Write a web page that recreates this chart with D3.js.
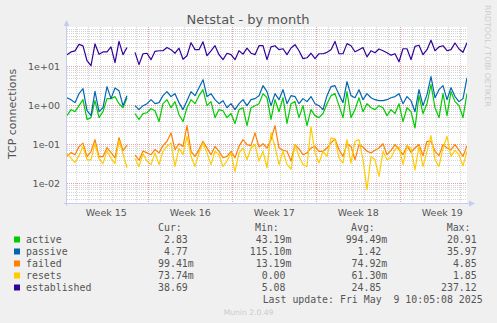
<!DOCTYPE html>
<html><head><meta charset="utf-8">
<script src="https://cdn.jsdelivr.net/npm/d3@7/dist/d3.min.js"></script>
<style>
html,body{margin:0;padding:0;background:#F0F0F0;}
svg{display:block;}
text{font-family:"DejaVu Sans",sans-serif;}
.mono{font-family:"DejaVu Sans Mono",monospace;}
</style></head><body>
<svg id="chart" width="497" height="323"></svg>
<script>
// ---------- data ----------
const seriesNames  = ["active","passive","failed","resets","established"];
const seriesColors = ["#00CC00","#0066B3","#FF8000","#FFCC00","#330099"];

// samples every 8 hours starting 2025-04-07 05:24 UTC (null = no data)
const active = [0.54,0.77,0.68,0.97,1.38,0.43,0.48,1.30,0.48,0.68,1.47,1.47,1.65,1.09,0.86,1.55,null,0.61,0.43,0.61,
  0.64,0.81,0.72,0.38,1.09,1.38,0.86,1.23,0.57,0.38,0.86,1.38,1.09,1.75,2.49,0.97,1.23,0.48,0.77,0.72,
  0.48,0.61,0.34,0.77,0.86,0.30,0.86,0.97,1.09,1.97,1.55,0.43,1.38,0.68,1.55,0.34,1.09,1.23,0.48,0.97,
  0.30,0.77,0.54,0.48,0.61,1.09,1.75,1.97,0.97,0.48,2.21,0.48,0.77,1.55,0.68,1.09,0.86,0.77,0.97,0.86,
  0.54,0.77,0.61,1.09,0.38,0.86,0.68,0.26,1.75,0.61,1.09,3.35,0.86,0.48,1.97,0.54,2.21,1.23,0.97,0.48,2.0];
const passive = [1.55,1.38,1.16,1.97,2.64,0.72,0.54,2.25,0.68,0.86,2.97,1.47,2.75,2.35,0.97,1.75,null,0.97,0.77,0.97,
  1.09,1.38,1.09,1.16,1.75,2.21,1.66,1.97,1.16,0.77,1.30,2.21,1.75,2.80,4.49,1.66,1.97,1.38,1.09,1.30,
  0.86,1.09,0.77,1.09,1.38,0.97,1.38,1.47,1.75,3.15,2.21,0.97,1.97,1.38,2.49,1.09,1.75,1.66,1.09,1.47,
  1.23,1.66,1.09,0.97,0.77,1.75,2.97,3.15,1.86,1.16,3.99,1.75,1.55,2.49,1.38,1.97,1.55,1.38,1.30,1.30,
  1.38,1.55,1.66,1.97,1.09,1.66,1.30,0.68,2.49,0.97,1.86,5.35,1.55,2.49,3.15,1.38,2.80,1.66,1.23,1.47,5.0];
const failed = [0.049,0.061,0.054,0.087,0.107,0.048,0.065,0.131,0.048,0.048,0.082,0.061,0.045,0.148,0.068,0.095,null,0.053,0.039,0.067,
  0.060,0.054,0.073,0.060,0.092,0.119,0.195,0.073,0.103,0.088,0.30,0.066,0.049,0.073,0.119,0.080,0.054,0.088,0.066,0.045,
  0.049,0.066,0.045,0.088,0.131,0.098,0.092,0.195,0.085,0.103,0.080,0.131,0.30,0.080,0.070,0.066,0.037,0.098,0.076,0.054,
  0.060,0.080,0.088,0.066,0.066,0.080,0.108,0.136,0.073,0.049,0.103,0.088,0.040,0.098,0.085,0.066,0.060,0.070,0.080,0.103,
  0.054,0.070,0.098,0.073,0.054,0.092,0.062,0.080,0.098,0.051,0.119,0.119,0.066,0.051,0.098,0.080,0.073,0.098,0.070,0.049,0.092];
const resets = [0.057,0.044,0.034,0.051,0.087,0.040,0.040,0.103,0.042,0.032,0.068,0.044,0.032,0.123,0.057,0.025,null,0.043,0.027,0.057,
  0.037,0.030,0.060,0.030,0.066,0.088,0.108,0.027,0.080,0.054,0.159,0.049,0.027,0.060,0.108,0.060,0.030,0.066,0.054,0.027,
  0.037,0.060,0.020,0.060,0.080,0.040,0.080,0.098,0.037,0.066,0.025,0.195,0.088,0.030,0.066,0.030,0.023,0.098,0.049,0.030,
  0.027,0.28,0.060,0.033,0.066,0.049,0.145,0.131,0.045,0.033,0.131,0.033,0.119,0.131,0.040,0.0069,0.049,0.040,0.015,0.066,
  0.040,0.045,0.073,0.085,0.030,0.092,0.080,0.022,0.088,0.027,0.066,0.166,0.040,0.027,0.080,0.159,0.049,0.070,0.054,0.028,0.066];
const established = [19.6,23,24.5,36,33,13.7,10.2,37,20,23,23,31,12.2,43,19.6,30,null,22.5,10.9,20.7,
  21.3,14.6,23.8,24.7,24.7,30,26.3,21.3,28.7,15,18.4,39.7,26.3,26.3,41.8,18.4,24.5,33.2,19.6,14.6,
  21.3,19.6,14.6,24.7,20.2,28.7,21.3,19.6,33.2,33.2,14.6,31,33.2,26.3,27.8,19.6,29,35.3,24.7,15.5,
  16.3,21.3,15.5,20.7,20.7,22.5,26.3,42.8,20.7,20.7,37.5,33.2,23.2,26.3,30,17.2,24.7,22,27.4,24.7,
  22,19,20.7,12.9,27.8,27.8,14.6,31.9,34.2,19.6,26.3,46,24.7,31,33.2,24.7,26.3,39,27.4,22.5,39.7];

const curValues = ["2.83","4.77","99.41m","73.74m","38.69"];
const minValues = ["43.19m","115.10m","13.19m","0.00","5.08"];
const avgValues = ["994.49m","1.42","74.92m","61.30m","24.85"];
const maxValues = ["20.91","35.97","4.85","1.85","237.12"];

const weekLabels = ["Week 15","Week 16","Week 17","Week 18","Week 19"];
const yTickLabels = ["1e-02","1e-01","1e+00","1e+01"];
const yTickValues = [0.01,0.1,1,10];

const startTime = new Date(Date.UTC(2025,3,7,5,24));
const endTime   = new Date(Date.UTC(2025,4,10,13,24));
const stepHours = 8;

// ---------- layout ----------
const L = 67, R = 467, T = 27, B = 203;
const svg = d3.select("#chart");
const x = d3.scaleUtc().domain([startTime, endTime]).range([L, R]);
const y = d3.scaleLog().domain([Math.pow(10,-2.504), 100]).range([B, T]);

svg.append("rect").attr("x",L).attr("y",T).attr("width",R-L).attr("height",B-T).attr("fill","#ffffff");

const grid = svg.append("g");
// horizontal minor / major
for (let d = -3; d <= 1; d++) {
  for (let k = 1; k <= 9; k++) {
    const v = k * Math.pow(10, d);
    if (v <= y.domain()[0] || v >= 100) continue;
    const yy = Math.round(y(v)) + 0.5;
    grid.append("line").attr("x1",L).attr("x2",R).attr("y1",yy).attr("y2",yy)
      .attr("stroke", k===1 ? "#E8A0A0" : "#D4D4D4").attr("stroke-width",1)
      .attr("stroke-dasharray","1,1");
  }
}
// vertical: day minor, week major
d3.utcDay.range(startTime, endTime).forEach(dt => {
  const xx = Math.round(x(dt)) + 0.5;
  const isMon = dt.getUTCDay() === 1;
  grid.append("line").attr("x1",xx).attr("x2",xx).attr("y1",T).attr("y2",B)
    .attr("stroke", isMon ? "#E8A0A0" : "#D4D4D4").attr("stroke-width",1)
    .attr("stroke-dasharray","1,1");
});

// series
const allSeries = [active, passive, failed, resets, established];
const clip = svg.append("clipPath").attr("id","pc").append("rect")
  .attr("x",L).attr("y",T).attr("width",R-L).attr("height",B-T);
const lines = svg.append("g").attr("clip-path","url(#pc)");
allSeries.forEach((vals, si) => {
  const pts = vals.map((v,i) => ({t: new Date(startTime.getTime() + i*stepHours*3600e3), v}));
  const line = d3.line().defined(p => p.v !== null).x(p => x(p.t)).y(p => y(p.v));
  lines.append("path").attr("d", line(pts)).attr("fill","none")
    .attr("stroke", seriesColors[si]).attr("stroke-width",1.2).attr("stroke-linejoin","round");
});

// axes
const axisColor = "#C5CCF0";
svg.append("line").attr("x1",L-3).attr("x2",R+3).attr("y1",B+0.5).attr("y2",B+0.5).attr("stroke",axisColor);
svg.append("path").attr("d",`M${R+2},${B-2.5} L${R+8},${B+0.5} L${R+2},${B+3.5} Z`).attr("fill",axisColor);
svg.append("line").attr("x1",L-0.5).attr("x2",L-0.5).attr("y1",B+3).attr("y2",T-3).attr("stroke",axisColor);
svg.append("path").attr("d",`M${L-3.5},${T-1} L${L-0.5},${T-7} L${L+2.5},${T-1} Z`).attr("fill",axisColor);

// y tick labels
yTickValues.forEach((v,i) => {
  svg.append("text").attr("x",60).attr("y",y(v)+3.5).attr("text-anchor","end")
    .attr("font-size","9.5px").attr("fill","#555").text(yTickLabels[i]);
});
// x week labels
d3.utcMonday.range(d3.utcMonday.floor(startTime), endTime).forEach((m,i) => {
  const c = new Date(m.getTime() + 84*3600e3);
  svg.append("text").attr("x",x(c)).attr("y",215.5).attr("text-anchor","middle")
    .attr("font-size","9.5px").attr("fill","#555").text(weekLabels[i]);
});

// titles
svg.append("text").attr("x",248).attr("y",24).attr("text-anchor","middle")
  .attr("font-size","13px").attr("fill","#555").text("Netstat - by month");
svg.append("text").attr("transform","translate(16,114) rotate(-90)").attr("text-anchor","middle")
  .attr("font-size","11px").attr("fill","#555").text("TCP connections");
svg.append("text").attr("transform","translate(485,5) rotate(90)").attr("text-anchor","start")
  .attr("font-size","7.9px").attr("fill","#CCCCCC").text("RRDTOOL / TOBI OETIKER");

// legend
const lg = svg.append("g").attr("class","mono").attr("font-size","9.9px").attr("fill","#555");
const hdrY = 231;
[["Cur:",158],["Min:",255],["Avg:",351],["Max:",446.7]].forEach(([t,xx]) => {
  lg.append("text").attr("class","mono").attr("x",xx).attr("y",hdrY).text(t);
});
const colEnds = [187.8, 285.5, 381.3, 476.7];
const cols = [curValues, minValues, avgValues, maxValues];
seriesNames.forEach((name,i) => {
  const by = 243 + i*12;
  lg.append("rect").attr("x",14).attr("y",by-6.5).attr("width",6).attr("height",6).attr("fill",seriesColors[i]);
  lg.append("text").attr("class","mono").attr("x",26).attr("y",by).text(name);
  cols.forEach((col,c) => {
    const s = col[i];
    const hasUnit = /[a-zA-Z]$/.test(s);
    const num = hasUnit ? s.slice(0,-1) : s;
    lg.append("text").attr("class","mono").attr("x",colEnds[c]).attr("y",by).attr("text-anchor","end").text(num);
    if (hasUnit) lg.append("text").attr("class","mono").attr("x",colEnds[c]).attr("y",by).text(s.slice(-1));
  });
});
lg.append("text").attr("class","mono").attr("x",476.7+5.96).attr("y",303).attr("text-anchor","end")
  .attr("xml:space","preserve").style("white-space","pre").text("Last update: Fri May  9 10:05:08 2025");

svg.append("text").attr("x",248.5).attr("y",315).attr("text-anchor","middle")
  .attr("font-size","7.6px").attr("fill","#CCCCCC").text("Munin 2.0.49");
</script>
</body></html>
